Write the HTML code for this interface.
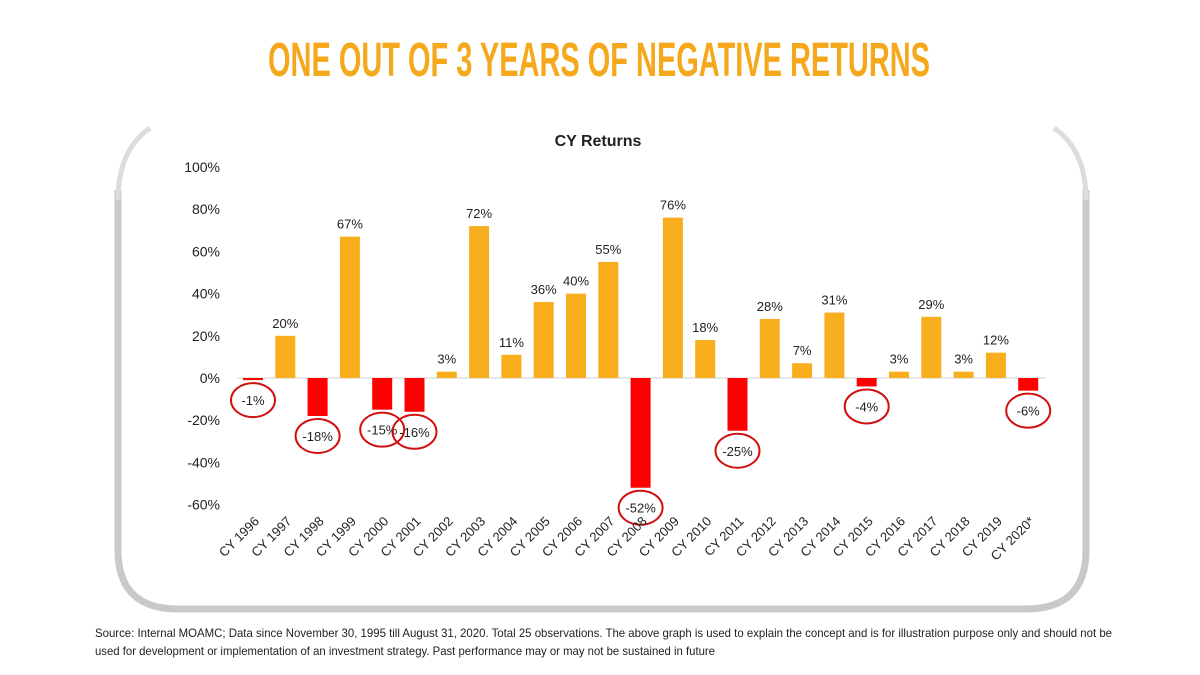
<!DOCTYPE html>
<html><head><meta charset="utf-8"><style>
html,body{margin:0;padding:0;background:#fff;width:1200px;height:675px;overflow:hidden;font-family:"Liberation Sans",sans-serif}
</style></head><body>
<svg width="1200" height="675" viewBox="0 0 1200 675">
<text x="599" y="76" text-anchor="middle" font-family="'Liberation Sans Narrow','Liberation Sans',sans-serif" font-weight="bold" font-size="48" fill="#F5A81C" textLength="662" lengthAdjust="spacingAndGlyphs">ONE OUT OF 3 YEARS OF NEGATIVE RETURNS</text>
<path d="M118 190 L118 550 Q118 609 178 609 L1026 609 Q1086 609 1086 550 L1086 190" fill="none" stroke="#c9c9c9" stroke-width="7"/>
<path d="M118 200 Q118 150 150 128" fill="none" stroke="#dcdcdc" stroke-width="5"/>
<path d="M1086 200 Q1086 150 1054 128" fill="none" stroke="#dcdcdc" stroke-width="5"/>
<text x="598" y="146" text-anchor="middle" font-size="16" font-weight="bold" fill="#222">CY Returns</text>
<g id="yaxis"></g>
<g id="bars"></g>
<text x="95" y="637" font-size="12" fill="#222" textLength="1017" lengthAdjust="spacingAndGlyphs">Source: Internal MOAMC; Data since November 30, 1995 till August 31, 2020. Total 25 observations. The above graph is used to explain the concept and is for illustration purpose only and should not be</text>
<text x="95" y="655" font-size="12" fill="#222" textLength="620" lengthAdjust="spacingAndGlyphs">used for development or implementation of an investment strategy. Past performance may or may not be sustained in future</text>
</svg>
<script>
const categories=["CY 1996","CY 1997","CY 1998","CY 1999","CY 2000","CY 2001","CY 2002","CY 2003","CY 2004","CY 2005","CY 2006","CY 2007","CY 2008","CY 2009","CY 2010","CY 2011","CY 2012","CY 2013","CY 2014","CY 2015","CY 2016","CY 2017","CY 2018","CY 2019","CY 2020*"];
const values=[-1,20,-18,67,-15,-16,3,72,11,36,40,55,-52,76,18,-25,28,7,31,-4,3,29,3,12,-6];
const ticks=[100,80,60,40,20,0,-20,-40,-60];
const NS="http://www.w3.org/2000/svg";
const y=v=>378-v*2.11;
const x=i=>253+i*32.3;
function mk(t,a,p){const e=document.createElementNS(NS,t);for(const k in a)e.setAttribute(k,a[k]);p.appendChild(e);return e;}
const ya=document.getElementById('yaxis'),bg=document.getElementById('bars');
ticks.forEach(t=>{const e=mk('text',{x:220,y:y(t)+5,'text-anchor':'end','font-size':14,fill:'#222'},ya);e.textContent=t+'%';

});
const zl=mk('line',{x1:237,x2:1046,y1:378,y2:378,stroke:'#d0d0d0','stroke-width':1},ya);


values.forEach((v,i)=>{
 const cx=x(i),neg=v<0;
 const r=mk('rect',{x:cx-10,width:20,y:neg?y(0):y(v),height:Math.abs(y(v)-y(0)),fill:neg?'#FF0000':'#F9AE1E'},bg);
 
 
 const ly=neg?y(v)+25:y(v)-8;
 const lb=mk('text',{x:cx,y:ly,'text-anchor':'middle','font-size':13,fill:'#222'},bg);lb.textContent=v+'%';
 
 
 if(neg){const c=mk('ellipse',{cx:cx,cy:ly-5,rx:22,ry:17,fill:'none',stroke:'#D01010','stroke-width':2},bg);
 
 }
 const xl=mk('text',{x:cx+7,y:522,'text-anchor':'end','font-size':13,fill:'#222',transform:`rotate(-45 ${cx+7} 522)`},bg);xl.textContent=categories[i];
 
 
});
</script>
</body></html>
